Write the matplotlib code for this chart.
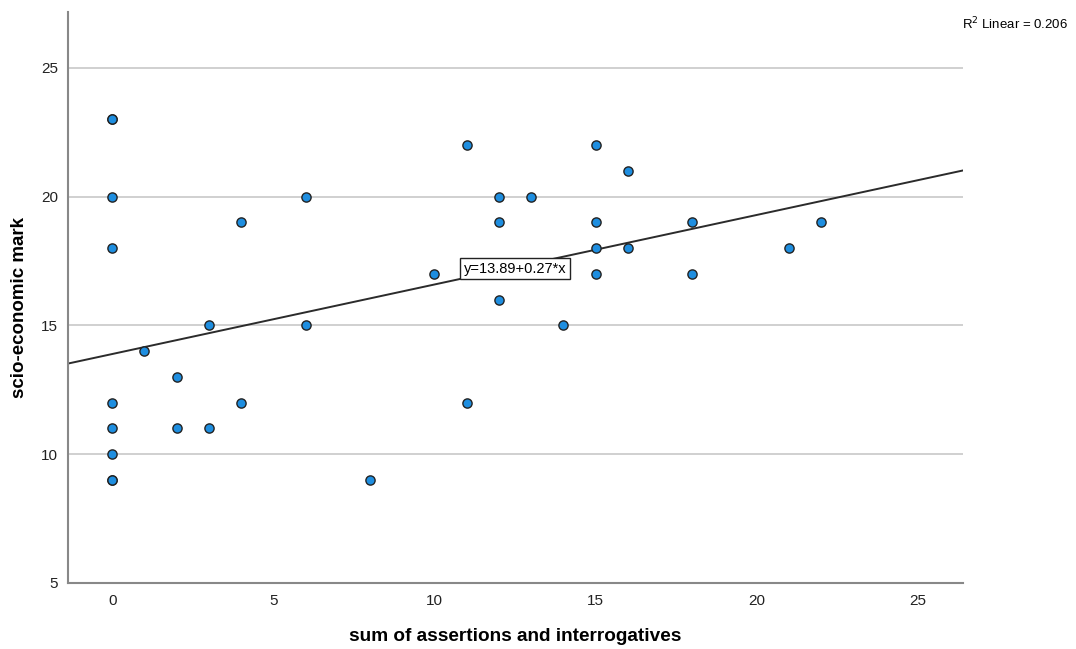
import numpy as np
import matplotlib
matplotlib.use("Agg")
import matplotlib.pyplot as plt

plt.rcParams['font.family'] = ['Liberation Sans', 'DejaVu Sans']

# data
x_vals = [0, 0, 0, 0, 0, 0, 0, 0, 0,
          1, 2, 2, 3, 3, 4, 4, 6, 6, 8,
          10, 11, 11, 12, 12, 12, 13, 14,
          15, 15, 15, 15, 16, 16, 18, 18, 21, 22]
y_vals = [23, 23, 20, 18, 12, 11, 10, 9, 9,
          14, 13, 11, 15, 11, 19, 12, 20, 15, 9,
          17, 22, 12, 20, 19, 16, 20, 15,
          22, 19, 18, 17, 21, 18, 19, 17, 18, 19]
intercept = 13.89
slope = 0.27
r2 = 0.206
x_ticks = [0, 5, 10, 15, 20, 25]
y_ticks = [5, 10, 15, 20, 25]

fig = plt.figure(figsize=(10.76, 6.49), dpi=100)
ax = fig.add_axes([0.0632, 0.1017, 0.8318, 0.8798])

xlim = (-1.37, 26.4)
ylim = (5, 27.17)

ax.set_axisbelow(True)
ax.grid(axis='y', color='#c8c8c8', linewidth=1.2)

xs = np.array(xlim)
ax.plot(xs, intercept + slope * xs, color='#2b2b2b', linewidth=1.4, zorder=2)

ax.scatter(x_vals, y_vals, s=44, color='#1e8ee0', edgecolors='#222222',
           linewidths=1.0, zorder=3)

ax.text(12.5, 17.2, 'y=13.89+0.27*x', fontsize=10.5, ha='center', va='center',
        zorder=4, bbox=dict(boxstyle='square,pad=0.25', facecolor='white',
                            edgecolor='#222222', linewidth=1.0))

ax.set_xlim(xlim)
ax.set_ylim(ylim)
ax.set_xticks(x_ticks)
ax.set_yticks(y_ticks)
ax.tick_params(length=0, labelsize=11, colors='#222222')
ax.tick_params(axis='x', pad=8)
ax.tick_params(axis='y', pad=7)

for side in ['top', 'right']:
    ax.spines[side].set_visible(False)
for side in ['left', 'bottom']:
    ax.spines[side].set_color('#888888')
    ax.spines[side].set_linewidth(1.5)

ax.set_xlabel('sum of assertions and interrogatives', fontsize=13.7,
              fontweight='bold', labelpad=14)
ax.set_ylabel('scio-economic mark', fontsize=13.5, fontweight='bold')
ax.yaxis.set_label_coords(-0.045, 0.482)

fig.text(0.993, 0.963, r'R$^2$ Linear = 0.206', fontsize=9.5, ha='right',
         va='center')

fig.savefig('out.png', dpi=100)
